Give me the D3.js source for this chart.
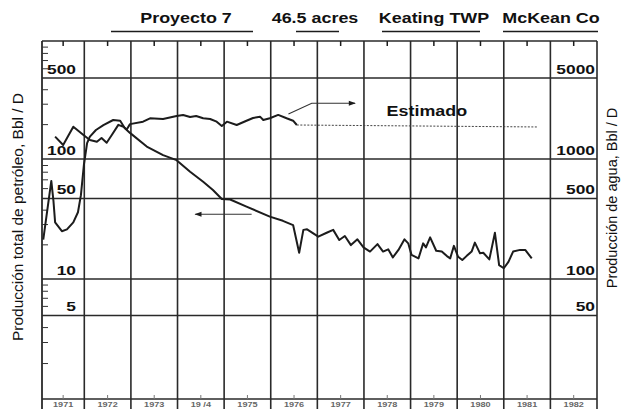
<!DOCTYPE html>
<html>
<head>
<meta charset="utf-8">
<script src="https://cdn.jsdelivr.net/npm/d3@7"></script>
<style>
  html, body { margin: 0; padding: 0; background: #fff; }
  svg { display: block; }
  text { font-family: "Liberation Sans", Arial, sans-serif; fill: #111; }
</style>
</head>
<body>
<svg id="chart" width="622" height="409"></svg>
<script>
// ---- data ----
const years = [1971, 1972, 1973, 1974, 1975, 1976, 1977, 1978, 1979, 1980, 1981, 1982];
const yearLabels = ["1971", "1972", "1973", "19 /4", "1975", "1976", "1977", "1978", "1979", "1980", "1981", "1982"];

const oilYears = [1971.03, 1971.22, 1971.27, 1971.31, 1971.47, 1971.59, 1971.74, 1971.85, 1971.92, 1971.99,
  1972.06, 1972.12, 1972.25, 1972.41, 1972.62, 1972.77, 1972.87, 1972.98, 1973.34, 1973.69, 1973.98,
  1974.27, 1974.55, 1974.76, 1974.95, 1975.13, 1975.48, 1975.98, 1976.26, 1976.48, 1976.61, 1976.70,
  1976.78, 1977.02, 1977.20, 1977.34, 1977.47, 1977.59, 1977.72, 1977.86, 1977.99, 1978.13, 1978.29,
  1978.41, 1978.52, 1978.62, 1978.74, 1978.87, 1978.95, 1979.02, 1979.17, 1979.27, 1979.33, 1979.42,
  1979.55, 1979.67, 1979.78, 1979.85, 1979.93, 1980.02, 1980.11, 1980.20, 1980.31, 1980.38, 1980.49,
  1980.56, 1980.69, 1980.81, 1980.90, 1981.00, 1981.10, 1981.20, 1981.35, 1981.46, 1981.60];
const oilValues = [22, 68, 48, 31, 26, 27, 31, 38, 53, 90,
  137, 156, 178, 196, 217, 214, 184, 168, 128, 108, 98,
  80, 67, 58, 49.5, 49, 42.5, 34.8, 32, 29.4, 16.9, 26.7,
  27, 23.3, 25.2, 26.7, 21.8, 23.6, 19.7, 22.1, 18.8, 17.3, 20.1,
  17.3, 18.1, 15.4, 17.9, 22.1, 20.4, 16.2, 15.1, 20.4, 18.8, 23,
  17.6, 17.3, 15.8, 15.1, 19.4, 15.6, 14.6, 15.8, 17.3, 20.7, 16.7,
  16.9, 14.8, 25.2, 13.2, 12.4, 14.1, 17.3, 17.9, 17.9, 15.1];

const waterYears = [1971.31, 1971.50, 1971.74, 1971.98, 1972.12, 1972.27, 1972.37, 1972.48, 1972.59,
  1972.73, 1972.84, 1972.91, 1972.98, 1973.26, 1973.41, 1973.69, 1973.98, 1974.12, 1974.27, 1974.40,
  1974.55, 1974.70, 1974.84, 1974.95, 1975.06, 1975.27, 1975.48, 1975.62, 1975.77, 1975.84, 1975.98,
  1976.16, 1976.34, 1976.48, 1976.56];
const waterValues = [1560, 1320, 1900, 1610, 1460, 1410, 1520, 1380, 1610,
  1970, 1900, 1800, 2000, 2100, 2245, 2215, 2350, 2400, 2300, 2350,
  2245, 2215, 2100, 1930, 2100, 1965, 2140, 2260, 2320, 2170, 2245,
  2400, 2245, 2140, 1965];

// estimated water production (dashed)
const estYears = [1976.56, 1981.71];
const estValues = [1965, 1890];

const leftTickValues = [500, 100, 50, 10, 5];
const leftTickLabels = ["500", "100", "50", "10", "5"];
const rightTickValues = [5000, 1000, 500, 100, 50];
const rightTickLabels = ["5000", "1000", "500", "100", "50"];
const leftMinorTicks = [2, 3, 4, 6, 7, 8, 9, 20, 30, 40, 60, 70, 80, 90, 200, 300, 400, 600, 700, 800, 900];

const headerTitles = ["Proyecto 7", "46.5 acres", "Keating TWP", "McKean Co"];

// arrow annotations (year, value)
const waterArrowYears = [1976.38, 1976.88, 1977.81];
const waterArrowValues = [2445, 3025, 3025];
const oilArrowYears = [1975.59, 1974.38];
const oilArrowValues = [36.5, 36.5];

// ---- layout ----
const svg = d3.select("#chart");
const F = { left: 42, right: 597, top: 41, bottom: 399, floor: 409 };

const x = d3.scaleLinear().domain([1971, 1972, 1983]).range([F.left, 84.3, F.right]);
const yL = d3.scaleLog()
  .domain([1, 5, 10, 50, 100, 500, 1000])
  .range([F.bottom, 315.5, 279, 198.5, 159, 78, F.top]);
const yR = d3.scaleLog()
  .domain([10, 50, 100, 500, 1000, 5000, 10000])
  .range([F.bottom, 315.5, 279, 198.5, 159, 78, F.top]);

const ink = "#1c1c1c";

// ---- header ----
const headerPos = [
  { cx: 186, u0: 111, u1: 253 },
  { cx: 315, u0: 296, u1: 339 },
  { cx: 434, u0: 382, u1: 480 },
  { cx: 551, u0: 503, u1: 598 }
];
const header = svg.append("g");
headerTitles.forEach((t, i) => {
  const p = headerPos[i];
  header.append("text")
    .attr("transform", `translate(${p.cx},23) scale(1.28,1)`)
    .attr("text-anchor", "middle")
    .style("font-size", "14px").style("font-weight", "bold")
    .text(t);
  header.append("line")
    .attr("x1", p.u0).attr("x2", p.u1).attr("y1", 31.5).attr("y2", 31.5)
    .attr("stroke", ink).attr("stroke-width", 1.5);
});

// ---- grid and frame ----
const grid = svg.append("g").attr("stroke", "#2a2a2a").attr("fill", "none");
// year boundaries
grid.selectAll("line.v").data(years.slice(1).concat([1983]))
  .join("line")
  .attr("x1", d => x(d)).attr("x2", d => x(d))
  .attr("y1", F.top).attr("y2", F.floor)
  .attr("stroke-width", 1.6);
// frame left
grid.append("line").attr("x1", F.left).attr("x2", F.left).attr("y1", F.top).attr("y2", F.floor).attr("stroke-width", 1.8);
grid.append("line").attr("x1", F.left).attr("x2", F.right).attr("y1", F.top).attr("y2", F.top).attr("stroke-width", 1.6);
grid.append("line").attr("x1", F.left).attr("x2", F.right).attr("y1", F.bottom).attr("y2", F.bottom).attr("stroke-width", 1.6);
// horizontal value lines
grid.selectAll("line.h").data(leftTickValues)
  .join("line")
  .attr("x1", F.left).attr("x2", F.right)
  .attr("y1", d => yL(d)).attr("y2", d => yL(d))
  .attr("stroke-width", 1.5);

// minor ticks on the left axis
const minorAxis = d3.axisRight(yL).tickValues(leftMinorTicks).tickSize(6).tickFormat("");
svg.append("g").attr("transform", `translate(${F.left},0)`).call(minorAxis)
  .call(g => g.select(".domain").remove())
  .call(g => g.selectAll("line").attr("stroke", "#333").attr("stroke-width", 1));

// ticks at the middle of each year, top and bottom
svg.append("g").selectAll("line").data(years)
  .join("line")
  .attr("x1", d => x(d + 0.5)).attr("x2", d => x(d + 0.5))
  .attr("y1", F.top).attr("y2", F.top + 5)
  .attr("stroke", ink).attr("stroke-width", 1.5);
svg.append("g").selectAll("line").data(years)
  .join("line")
  .attr("x1", d => x(d + 0.5)).attr("x2", d => x(d + 0.5))
  .attr("y1", F.bottom - 4).attr("y2", F.bottom)
  .attr("stroke", "#777").attr("stroke-width", 1);

// year labels in the strip under the frame
svg.append("g").selectAll("text").data(years)
  .join("text")
  .attr("transform", (d) => `translate(${x(d + 0.5)},407) scale(1.3,1)`)
  .attr("text-anchor", "middle")
  .style("font-size", "7px").style("font-weight", "bold").style("fill", "#666")
  .text((d, i) => yearLabels[i]);

// ---- value labels ----
svg.append("g").selectAll("text").data(leftTickValues)
  .join("text")
  .attr("transform", d => `translate(76,${yL(d) - 4.5}) scale(1.45,1)`)
  .attr("text-anchor", "end")
  .style("font-size", "12px").style("font-weight", "bold")
  .text((d, i) => leftTickLabels[i]);
svg.append("g").selectAll("text").data(rightTickValues)
  .join("text")
  .attr("transform", d => `translate(595,${yR(d) - 4.5}) scale(1.45,1)`)
  .attr("text-anchor", "end")
  .style("font-size", "12px").style("font-weight", "bold")
  .text((d, i) => rightTickLabels[i]);

// ---- axis titles ----
svg.append("text")
  .attr("transform", "translate(23,217) rotate(-90)")
  .attr("text-anchor", "middle")
  .style("font-size", "15.5px")
  .text("Producción total  de petróleo, Bbl / D");
svg.append("text")
  .attr("transform", "translate(617,198) rotate(-90)")
  .attr("text-anchor", "middle")
  .style("font-size", "14.5px")
  .text("Producción de agua, Bbl / D");

// ---- series ----
const oil = oilYears.map((t, i) => [t, oilValues[i]]);
const water = waterYears.map((t, i) => [t, waterValues[i]]);
const est = estYears.map((t, i) => [t, estValues[i]]);

const lineL = d3.line().x(d => x(d[0])).y(d => yL(d[1]));
const lineR = d3.line().x(d => x(d[0])).y(d => yR(d[1]));

svg.append("path").datum(oil).attr("d", lineL)
  .attr("fill", "none").attr("stroke", ink).attr("stroke-width", 2)
  .attr("stroke-linejoin", "round");
svg.append("path").datum(water).attr("d", lineR)
  .attr("fill", "none").attr("stroke", ink).attr("stroke-width", 2)
  .attr("stroke-linejoin", "round");
svg.append("path").datum(est).attr("d", lineR)
  .attr("fill", "none").attr("stroke", "#444").attr("stroke-width", 1)
  .attr("stroke-dasharray", "2,1.5");

// ---- annotations ----
const defs = svg.append("defs");
defs.append("marker").attr("id", "head")
  .attr("viewBox", "0 0 10 10").attr("refX", 9).attr("refY", 5)
  .attr("markerWidth", 9).attr("markerHeight", 7).attr("orient", "auto")
  .attr("markerUnits", "userSpaceOnUse")
  .append("path").attr("d", "M0,1.5 L10,5 L0,8.5 Z").attr("fill", ink);

const waterArrow = waterArrowYears.map((t, i) => [t, waterArrowValues[i]]);
const oilArrow = oilArrowYears.map((t, i) => [t, oilArrowValues[i]]);
svg.append("path").datum(waterArrow).attr("d", lineR)
  .attr("fill", "none").attr("stroke", "#333").attr("stroke-width", 1.1)
  .attr("marker-end", "url(#head)");
svg.append("path").datum(oilArrow).attr("d", lineL)
  .attr("fill", "none").attr("stroke", "#333").attr("stroke-width", 1.1)
  .attr("marker-end", "url(#head)");

svg.append("text")
  .attr("transform", `translate(${x(1979.35)},${yR(2350)}) scale(1.28,1)`)
  .attr("text-anchor", "middle")
  .style("font-size", "14px").style("font-weight", "bold")
  .text("Estimado");
</script>
</body>
</html>
